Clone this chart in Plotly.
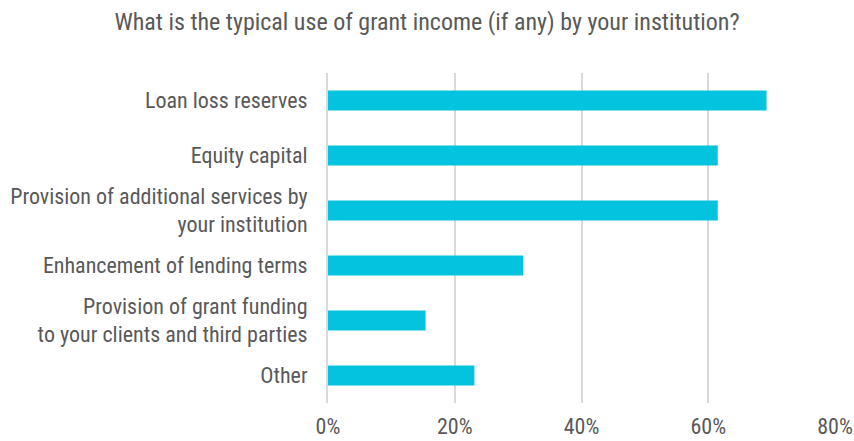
import plotly.graph_objects as go

categories = [
    "Loan loss reserves",
    "Equity capital",
    "Provision of additional services by<br>your institution",
    "Enhancement of lending terms",
    "Provision of grant funding<br>to your clients and third parties",
    "Other",
]
shares = [0.692, 0.615, 0.615, 0.308, 0.154, 0.231]
tick_vals = [0, 0.2, 0.4, 0.6, 0.8]
tick_text = ["0%", "20%", "40%", "60%", "80%"]

FONT = "Liberation Sans Narrow, Arial Narrow, Roboto Condensed, Liberation Sans, sans-serif"
GREY = "#595959"
GRID = "#D9D9D9"

fig = go.Figure(
    go.Bar(
        x=shares,
        y=categories,
        orientation="h",
        marker=dict(color="#04C3DE", line=dict(width=0)),
    )
)

fig.update_layout(
    width=854,
    height=441,
    margin=dict(l=328, r=19, t=73, b=38),
    paper_bgcolor="white",
    plot_bgcolor="white",
    bargap=0.636,
    showlegend=False,
    font=dict(family=FONT, color=GREY, size=22),
    title=dict(
        text="What is the typical use of grant income (if any) by your institution?",
        x=0.5,
        xanchor="center",
        y=0.95,
        yanchor="middle",
        font=dict(family=FONT, size=24, color=GREY),
    ),
)

fig.update_xaxes(
    range=[0, 0.8],
    tickvals=tick_vals,
    ticktext=tick_text,
    automargin=False,
    showgrid=True,
    gridcolor=GRID,
    gridwidth=2,
    zeroline=False,
    showline=False,
    ticks="outside",
    ticklen=4,
    tickcolor="rgba(0,0,0,0)",
    tickfont=dict(size=22, color=GREY),
)
# the 0% gridline coincides with the category axis line
fig.update_yaxes(
    autorange="reversed",
    automargin=False,
    showgrid=False,
    showline=True,
    linecolor=GRID,
    linewidth=2,
    layer="below traces",
    ticks="outside",
    ticklen=14,
    tickcolor="rgba(0,0,0,0)",
    tickfont=dict(size=22, color=GREY),
)

fig.write_html("out.html")
